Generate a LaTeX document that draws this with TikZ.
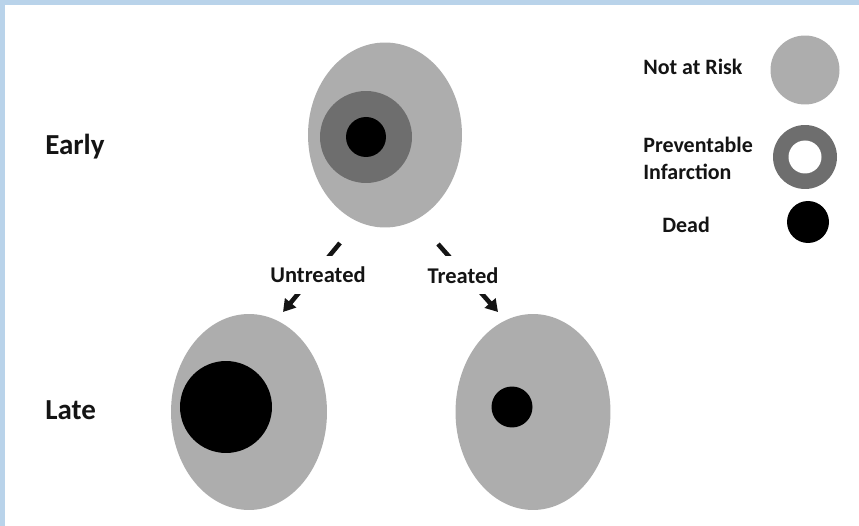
\documentclass[tikz,border=0pt]{standalone}
\usepackage{fontspec}
\setmainfont{Carlito}
\usepackage{xcolor}
\definecolor{infGrisClair}{HTML}{ADADAD}
\definecolor{infGrisFonce}{HTML}{6E6E6E}
\definecolor{infBordBleu}{HTML}{B9D3EA}
\definecolor{infTexte}{HTML}{141414}
\usepackage{tikz}
\usetikzlibrary{arrows.meta, shapes.geometric}
\tikzset{
  %% ── Shapes ───────────────────────────────────────────────────────────
  %% The heart is a flat grey oval; what sits inside it is a flat disc,
  %% no outline anywhere.
  zone/.style       = {ellipse, fill=infGrisClair, draw=none, inner sep=0pt},
  disque/.style     = {circle, draw=none, inner sep=0pt},
  %%
  %% ── Arrows ───────────────────────────────────────────────────────────
  fleche/.style     = {-{Triangle[length=2.4mm, width=2.8mm]}, draw=infTexte,
                       line width=2.6pt},
  %%
  %% ── Text ─────────────────────────────────────────────────────────────
  %% The arrow label cuts its arrow in two, so it carries a white fill.
  etiquette/.style  = {font=\fontsize{12.8}{16}\selectfont\bfseries,
                       text=infTexte, fill=white, inner xsep=2pt,
                       minimum height=0.76cm},
  legende/.style    = {font=\fontsize{12.5}{15.4}\selectfont\bfseries,
                       text=infTexte, inner sep=0pt, align=left},
  titreLigne/.style = {font=\fontsize{16.5}{20}\selectfont\bfseries,
                       text=infTexte, inner sep=0pt, anchor=base west},
}

\begin{document}
\begin{tikzpicture}[x=0.02cm, y=-0.02cm]

\useasboundingbox (0,0) rectangle (859,526);
\fill[infBordBleu] (0,0) rectangle (859,526);
\fill[white] (5,5) rectangle (859,526);

\node[titreLigne] (early) at (45,155) {Early};
\node[titreLigne] (late) at (45,420) {Late};

%% early heart
\node[zone, minimum width=3.08cm, minimum height=3.7cm] (precoce) at (385,135) {};
\node[disque, fill=infGrisFonce, minimum size=1.84cm] (precoceMenace) at (366,137) {};
\node[disque, fill=black, minimum size=0.8cm] (precoceMort) at (366,137) {};

%% late hearts
\node[zone, minimum width=3.12cm, minimum height=3.92cm] (nonTraite) at (249,412) {};
\node[disque, fill=black, minimum size=1.84cm] (nonTraiteMort) at (226,407) {};
\node[zone, minimum width=3.1cm, minimum height=3.92cm] (traite) at (533,412) {};
\node[disque, fill=black, minimum size=0.82cm] (traiteMort) at (512,407) {};

\coordinate (nonTraiteDepart) at (340,243);
\coordinate (nonTraiteArrivee) at (283,312);
\coordinate (traiteDepart) at (438,244);
\coordinate (traiteArrivee) at (498,312);
\draw[fleche] (nonTraiteDepart) -- node[etiquette, xshift=0.13cm, yshift=0.05cm]
     (lblNonTraite) {Untreated} (nonTraiteArrivee);
\draw[fleche] (traiteDepart) -- node[etiquette, xshift=-0.1cm, yshift=0.05cm]
     (lblTraite) {Treated} (traiteArrivee);

%% legend
\node[disque, fill=infGrisClair, minimum size=1.38cm] (legSain) at (805,70) {};
\node[disque, fill=infGrisFonce, minimum size=1.28cm] (legAnneau) at (805,157) {};
\node[disque, fill=white, minimum size=0.66cm] (legTrou) at (805,157) {};
\node[disque, fill=black, minimum size=0.84cm] (legMort) at (808,222) {};

\node[legende, anchor=base west] (txtSain) at (643,75) {Not at Risk};
\node[legende, anchor=west] (txtAnneau) at (643,158) {Preventable\\Infarction};
\node[legende, anchor=base west] (txtMort) at (662,233) {Dead};

\end{tikzpicture}
\end{document}
